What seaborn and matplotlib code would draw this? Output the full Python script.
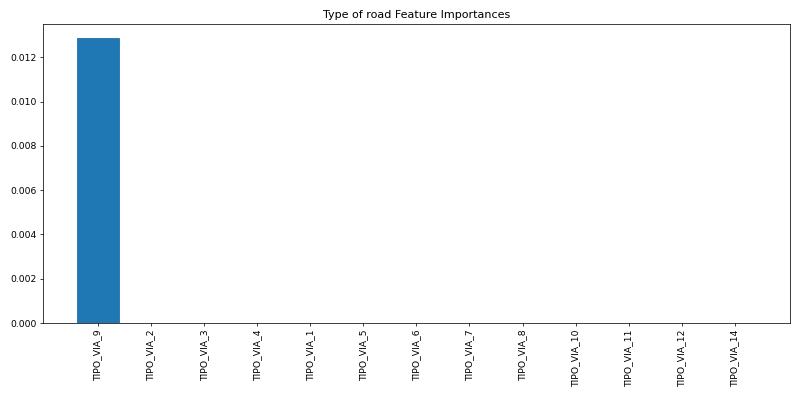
import matplotlib
matplotlib.use("Agg")

import matplotlib.pyplot as plt
import seaborn as sns
import pandas as pd

features = [
    "TIPO_VIA_9", "TIPO_VIA_2", "TIPO_VIA_3", "TIPO_VIA_4", "TIPO_VIA_1",
    "TIPO_VIA_5", "TIPO_VIA_6", "TIPO_VIA_7", "TIPO_VIA_8", "TIPO_VIA_10",
    "TIPO_VIA_11", "TIPO_VIA_12", "TIPO_VIA_14",
]
importances = [0.012875, 0, 0, 0, 0, 0, 0, 0, 0, 0, 0, 0, 0]

df = pd.DataFrame({"feature": features, "importance": importances})

fig, ax = plt.subplots(figsize=(12, 5.955), dpi=800 / 12)

sns.barplot(
    data=df,
    x="feature",
    y="importance",
    color="#1f77b4",
    saturation=1,
    width=0.8,
    edgecolor="#1a66a0",
    linewidth=0.8,
    ax=ax
)

ax.set_xlim(-1.04, 13.04)
ax.set_title("Type of road Feature Importances")
ax.set_xlabel("")
ax.set_ylabel("")
plt.xticks(rotation=90)

plt.tight_layout()
plt.savefig("out.png")
plt.close()
